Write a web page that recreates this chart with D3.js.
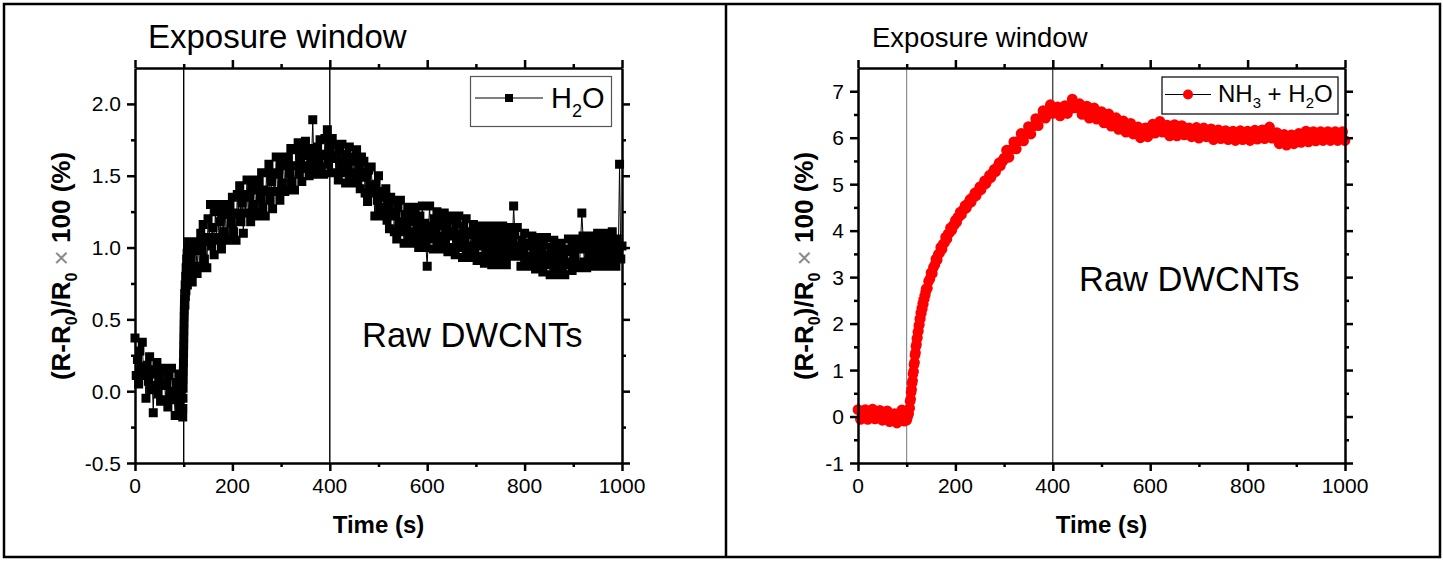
<!DOCTYPE html>
<html><head><meta charset="utf-8">
<script src="https://cdn.jsdelivr.net/npm/d3@7"></script>
<style>
html,body{margin:0;padding:0;background:#fff;}
svg{display:block;}
text{font-family:"Liberation Sans",Arial,sans-serif;white-space:pre;}
</style></head><body>
<svg id="chart" width="1443" height="561"></svg>
<script>
// ---------------- data ----------------
const xTicks = [0, 200, 400, 600, 800, 1000];
const xMinorTicks = [100, 300, 500, 700, 900];
const leftYTicks = [-0.5, 0.0, 0.5, 1.0, 1.5, 2.0];
const leftYMinorTicks = [-0.25, 0.25, 0.75, 1.25, 1.75];
const rightYTicks = [-1, 0, 1, 2, 3, 4, 5, 6, 7];
const rightYMinorTicks = [-0.5, 0.5, 1.5, 2.5, 3.5, 4.5, 5.5, 6.5];
const exposureWindow = [100, 400];

// Left panel: H2O (time in s, response in %)
const leftBaseTime = d3.range(0, 100, 2.5);
const leftBaseValue = [
  0.37,0.11,0.22,0.05,0.28,0.17,0.34,0.11,
  0.12,-0.05,0.18,0.07,0.24,0.01,0.12,-0.15,
  0.15,0.04,0.20,-0.02,0.09,-0.07,0.15,0.04,
  0.16,-0.06,0.05,-0.11,0.11,0.00,0.16,-0.06,
  0.00,-0.17,0.06,-0.05,0.12,-0.11,0.00,-0.17];
const leftRiseTime = [98,98.25,98.5,98.75,99,99.25,99.5,99.75,100,100.25,100.5,100.75,101,101.25,101.5,101.75,
  102,102.5,103,103.5,104,104.5,105,105.5,106,106.5,107,107.5,108,108.5,109,109.5];
const leftRiseValue = [-0.18,-0.12,-0.05,0.02,0.08,0.14,0.20,0.26,0.32,0.37,0.42,0.47,0.52,0.56,0.60,0.64,
  0.68,0.60,0.74,0.66,0.80,0.70,0.86,0.74,0.92,0.78,0.96,0.74,1.00,0.80,0.94,0.76];
const leftMainTime = d3.range(110, 1000.1, 2.5);
const leftMainValue = [
  1.04,0.82,0.93,0.76,0.98,0.87,1.04,0.82, 1.04,0.86,1.10,0.98,1.16,0.92,1.04,0.86,
  1.20,1.07,1.30,1.01,1.14,0.95,1.25,1.07, 1.30,1.05,1.18,0.99,1.24,1.11,1.30,1.05,
  1.23,1.05,1.29,1.17,1.35,1.11,1.23,1.05, 1.37,1.24,1.43,1.18,1.31,1.10,1.37,1.24,
  1.47,1.24,1.35,1.18,1.41,1.30,1.47,1.24, 1.40,1.22,1.46,1.34,1.52,1.28,1.40,1.22,
  1.52,1.39,1.58,1.33,1.46,1.27,1.52,1.39, 1.63,1.39,1.51,1.33,1.57,1.45,1.63,1.39,
  1.57,1.40,1.63,1.52,1.69,1.46,1.57,1.40, 1.68,1.57,1.73,1.51,1.62,1.46,1.68,1.57,
  1.74,1.55,1.64,1.50,1.69,1.60,1.89,1.55, 1.65,1.51,1.70,1.61,1.75,1.56,1.65,1.51,
  1.76,1.64,1.82,1.58,1.70,1.52,1.76,1.64, 1.72,1.52,1.62,1.47,1.67,1.57,1.72,1.52,
  1.60,1.45,1.65,1.55,1.70,1.50,1.60,1.45, 1.63,1.52,1.68,1.46,1.57,1.41,1.63,1.52,
  1.60,1.38,1.49,1.32,1.54,1.43,1.56,1.38, 1.39,1.22,1.44,1.33,1.50,1.28,1.39,1.22,
  1.35,1.24,1.41,1.19,1.30,1.13,1.35,1.24, 1.33,1.11,1.22,1.06,1.28,1.17,1.33,1.11,
  1.18,1.03,1.23,1.13,1.28,1.08,1.18,1.03, 1.22,1.11,1.28,1.06,1.17,1.00,1.22,1.11,
  1.29,1.06,1.17,1.00,0.87,1.12,1.29,1.06, 1.15,0.99,1.20,1.09,1.25,1.04,1.15,0.99,
  1.19,1.08,1.24,1.02,1.13,0.97,1.19,1.08, 1.22,1.00,1.11,0.95,1.17,1.06,1.22,1.00,
  1.09,0.93,1.15,1.04,1.20,0.98,1.09,0.93, 1.11,1.01,1.16,0.96,1.06,0.91,1.11,1.01,
  1.15,0.94,1.05,0.89,1.10,0.99,1.15,0.94, 1.04,0.88,1.10,0.99,1.15,0.93,1.04,0.88,
  1.10,0.99,1.15,0.93,1.04,0.88,1.10,0.99, 1.14,0.94,1.04,1.29,1.09,0.99,1.14,0.94,
  1.01,0.87,1.05,0.96,1.10,0.92,1.01,0.87, 1.03,0.94,1.08,0.90,0.99,0.85,1.03,0.94,
  1.07,0.88,0.97,0.83,1.02,0.93,1.07,0.88, 0.95,0.81,1.00,0.91,1.05,0.86,0.95,0.81,
  0.99,0.90,1.03,0.85,0.94,0.81,0.99,0.90, 1.06,0.88,0.97,0.84,1.02,0.93,1.06,0.88,
  0.99,0.86,1.04,1.24,1.08,0.90,0.99,0.86, 1.04,0.95,1.08,0.91,1.00,0.87,1.04,0.95,
  1.10,0.92,1.01,0.87,1.05,0.96,1.10,0.92, 1.01,0.87,1.06,0.97,1.11,0.92,1.01,0.87,
  1.06,0.97,1.58,0.92,1.01];

// Right panel: NH3 + H2O
const rightBaseTime = d3.range(0, 100, 5);
const rightBaseValue = [0.15,-0.06,0.04,0.15,-0.06,0.03,0.16,-0.05,0.03,0.13,-0.08,0.02,0.12,-0.11,-0.02,0.06,-0.14,0.00,0.14,-0.10];
const rightRiseTime = d3.range(100, 140, 1);
const rightRiseValue = [-0.08,0.08,0.00,0.12,0.06,0.16,0.18,0.33,0.37,0.52,0.58,0.72,0.77,0.92,0.97,1.12,1.16,1.32,1.37,1.51,
  1.55,1.68,1.70,1.82,1.84,1.96,1.98,2.10,2.11,2.23,2.22,2.33,2.32,2.43,2.42,2.52,2.53,2.60,2.61,2.68];
const rightMidTime = d3.range(140, 300, 2.5);
const rightMidValue = [
  2.75,2.76,2.91,2.96,3.09,3.08,3.21,3.26,3.39,3.37,3.49,3.52,3.64,3.60,3.71,3.74,
  3.86,3.82,3.93,3.95,4.06,4.01,4.11,4.12,4.22,4.18,4.29,4.30,4.40,4.35,4.44,4.45,
  4.54,4.49,4.58,4.58,4.67,4.62,4.71,4.72,4.81,4.75,4.84,4.85,4.94,4.88,4.97,4.98,
  5.07,5.01,5.10,5.10,5.19,5.14,5.23,5.23,5.32,5.27,5.36,5.37,5.46,5.40,5.49,5.50];
const rightMainTime = d3.range(300, 1000.1, 5);
const rightMainValue = [
  5.56,5.73,5.58,5.75,5.91,5.76,5.93,6.09,5.93,6.09,6.24,6.08,6.25,6.41,6.26,6.43,6.58,6.42,6.58,6.71,
  6.52,6.59,6.66,6.47,6.56,6.69,6.52,6.69,6.83,6.64,6.69,6.73,6.50,6.56,6.68,6.42,6.56,6.64,6.40,6.49,
  6.56,6.32,6.44,6.51,6.25,6.31,6.43,6.18,6.28,6.36,6.12,6.25,6.31,6.08,6.16,6.23,6.00,6.09,6.21,6.02,
  6.16,6.29,6.10,6.23,6.35,6.12,6.19,6.27,6.04,6.16,6.28,6.04,6.13,6.26,6.06,6.13,6.21,6.02,6.15,6.22,
  5.99,6.09,6.21,6.02,6.11,6.19,5.96,6.06,6.17,5.98,6.06,6.15,5.96,6.06,6.14,5.94,6.03,6.15,5.96,6.06,
  6.14,5.94,6.07,6.16,5.97,6.09,6.17,5.98,6.11,6.23,5.99,6.06,6.11,5.87,5.96,6.07,5.84,5.94,6.06,5.87,
  5.97,6.09,5.90,6.03,6.14,5.91,6.01,6.13,5.93,6.02,6.13,5.94,6.04,6.13,5.94,6.04,6.13,5.94,6.04,6.13,
  5.94];

// ---------------- drawing ----------------
const FONT = '"Liberation Sans", Arial, sans-serif';
const svg = d3.select("#chart");
svg.append("rect").attr("width", 1443).attr("height", 561).attr("fill", "#fff");

svg.append("rect").attr("x", 4).attr("y", 4).attr("width", 1436).attr("height", 553)
  .attr("fill", "none").attr("stroke", "#000").attr("stroke-width", 2.5);
svg.append("line").attr("x1", 726).attr("x2", 726).attr("y1", 4).attr("y2", 557)
  .attr("stroke", "#000").attr("stroke-width", 2.5);

function richText(parent, x, y, parts, size, opts = {}) {
  const t = parent.append("text").attr("x", x).attr("y", y)
    .attr("font-size", size).attr("font-family", FONT)
    .attr("font-weight", opts.weight || "normal").attr("fill", opts.fill || "#000")
    .attr("text-anchor", opts.anchor || "start");
  if (opts.rotate) t.attr("transform", `rotate(${opts.rotate},${x},${y})`);
  let shifted = 0;
  const subShift = opts.subShift || 0.28;
  parts.forEach(p => {
    const s = t.append("tspan").text(p.t);
    if (p.sub) { s.attr("font-size", size * 0.62).attr("dy", size * subShift); shifted = size * subShift; }
    else if (shifted) { s.attr("dy", -shifted); shifted = 0; }
    if (p.weight) s.attr("font-weight", p.weight);
    if (p.fill) s.attr("fill", p.fill);
  });
  return t;
}

function zip(ts, vs) { return ts.map((t, i) => ({ t, v: vs[i] })).filter(d => d.v !== undefined); }

function drawPanel(cfg) {
  const x = d3.scaleLinear().domain([0, 1000]).range([cfg.x0, cfg.x1]);
  const y = d3.scaleLinear().domain(cfg.yDomain).range([463, 68]);
  const g = svg.append("g");
  const [yb, yt] = y.range();

  exposureWindow.forEach((t, i) => {
    g.append("line").attr("x1", x(t)).attr("x2", x(t)).attr("y1", yb).attr("y2", yt)
      .attr("stroke", cfg.winColor[i]).attr("stroke-width", cfg.winWidth);
  });

  const data = cfg.data;
  g.append("path").datum(data)
    .attr("d", d3.line().x(d => x(d.t)).y(d => y(d.v)))
    .attr("fill", "none").attr("stroke", cfg.lineColor).attr("stroke-width", 1);

  // all markers of a series in one path, so overlapping markers merge without seams
  const mp = d3.path();
  data.forEach(d => {
    const cx = x(d.t), cy = y(d.v);
    if (cfg.marker === "square") {
      const h = 4.5;
      mp.moveTo(cx - h, cy - h); mp.lineTo(cx + h, cy - h); mp.lineTo(cx + h, cy + h); mp.lineTo(cx - h, cy + h); mp.closePath();
    } else {
      const r = 5.4;
      mp.moveTo(cx + r, cy); mp.arc(cx, cy, r, 0, 2 * Math.PI); mp.closePath();
    }
  });
  g.append("path").attr("d", mp.toString()).attr("fill", cfg.color).attr("fill-rule", "nonzero");

  function axis(fn, scale, vals, size, transform, withDomain) {
    const a = fn(scale).tickValues(vals).tickSize(size).tickSizeOuter(0).tickFormat("");
    const ag = g.append("g").attr("transform", transform).call(a);
    ag.selectAll(".tick line").attr("stroke", "#000").attr("stroke-width", 2.5);
    if (withDomain) ag.select(".domain").attr("stroke", "#000").attr("stroke-width", 2.5);
    else ag.select(".domain").remove();
  }
  axis(d3.axisBottom, x, xTicks, 8, `translate(0,${yb})`, true);
  axis(d3.axisBottom, x, xMinorTicks, 4, `translate(0,${yb})`, false);
  axis(d3.axisTop, x, xTicks, 8, `translate(0,${yt})`, true);
  axis(d3.axisTop, x, xMinorTicks, 4, `translate(0,${yt})`, false);
  axis(d3.axisLeft, y, cfg.yTicks, 8, `translate(${cfg.x0},0)`, true);
  axis(d3.axisLeft, y, cfg.yMinor, 4, `translate(${cfg.x0},0)`, false);
  axis(d3.axisRight, y, cfg.yTicks, 8, `translate(${cfg.x1},0)`, true);
  axis(d3.axisRight, y, cfg.yMinor, 4, `translate(${cfg.x1},0)`, false);

  const TS = 21;
  g.append("g").selectAll("text").data(xTicks).join("text")
    .attr("x", d => x(d)).attr("y", 493).attr("text-anchor", "middle")
    .attr("font-size", TS).attr("font-family", FONT).text(d => String(d));
  g.append("g").selectAll("text").data(cfg.yTicks).join("text")
    .attr("x", cfg.x0 - 14).attr("y", d => y(d) + TS * 0.36).attr("text-anchor", "end")
    .attr("font-size", TS).attr("font-family", FONT).text(cfg.yFormat);

  richText(g, (cfg.x0 + cfg.x1) / 2, 533, [{ t: "Time (s)" }], 24, { weight: "bold", anchor: "middle" });
  richText(g, cfg.yLabelX, 266,
    [{ t: "(R-R" }, { t: "0", sub: true }, { t: ")/R" }, { t: "0", sub: true },
     { t: " × ", weight: "normal", fill: "#888" }, { t: "100 (%)" }],
    26, { weight: "bold", anchor: "middle", rotate: -90, subShift: 0.25 });

  richText(g, cfg.titleX, cfg.titleY, [{ t: "Exposure window" }], cfg.titleSize);
  richText(g, cfg.rawX, cfg.rawY, [{ t: "Raw DWCNTs" }], 34.5);

  const L = cfg.legend;
  g.append("rect").attr("x", L.x).attr("y", L.y).attr("width", L.w).attr("height", L.h)
    .attr("fill", "#fff").attr("stroke", L.stroke).attr("stroke-width", 1.2);
  g.append("line").attr("x1", L.lx0).attr("x2", L.lx1).attr("y1", L.ly).attr("y2", L.ly)
    .attr("stroke", "#000").attr("stroke-width", 1);
  if (cfg.marker === "square") {
    g.append("rect").attr("x", (L.lx0 + L.lx1) / 2 - 4).attr("y", L.ly - 4)
      .attr("width", 8).attr("height", 8).attr("fill", cfg.color);
  } else {
    g.append("circle").attr("cx", (L.lx0 + L.lx1) / 2).attr("cy", L.ly).attr("r", 5).attr("fill", cfg.color);
  }
  richText(g, L.tx, L.ty, L.parts, L.size, { subShift: L.subShift });
}

drawPanel({
  x0: 135, x1: 622, yDomain: [-0.5, 2.25],
  yTicks: leftYTicks, yMinor: leftYMinorTicks, yFormat: d => d.toFixed(1),
  data: [...zip(leftBaseTime, leftBaseValue), ...zip(leftRiseTime, leftRiseValue), ...zip(leftMainTime, leftMainValue)],
  marker: "square", color: "#000", lineColor: "#000",
  winColor: ["#000", "#000"], winWidth: 1.4,
  yLabelX: 70, titleX: 148, titleY: 48, titleSize: 33, rawX: 362, rawY: 347,
  legend: { x: 470.5, y: 76.5, w: 141, h: 50, stroke: "#555", lx0: 475, lx1: 543, ly: 98,
    tx: 551, ty: 108, size: 29, subShift: 0.32,
    parts: [{ t: "H" }, { t: "2", sub: true }, { t: "O" }] }
});

drawPanel({
  x0: 858, x1: 1345, yDomain: [-1, 7.5],
  yTicks: rightYTicks, yMinor: rightYMinorTicks, yFormat: d => String(d),
  data: [...zip(rightBaseTime, rightBaseValue), ...zip(rightRiseTime, rightRiseValue),
         ...zip(rightMidTime, rightMidValue), ...zip(rightMainTime, rightMainValue)],
  marker: "circle", color: "#ff0000", lineColor: "#ff0000",
  winColor: ["#777", "#000"], winWidth: 1,
  yLabelX: 813, titleX: 872, titleY: 47, titleSize: 27.5, rawX: 1079, rawY: 291,
  legend: { x: 1162, y: 77, w: 176, h: 37, stroke: "#000", lx0: 1165, lx1: 1211, ly: 94.5,
    tx: 1218, ty: 102, size: 24, subShift: 0.24,
    parts: [{ t: "NH" }, { t: "3", sub: true }, { t: " + H" }, { t: "2", sub: true }, { t: "O" }] }
});
</script>
</body></html>
